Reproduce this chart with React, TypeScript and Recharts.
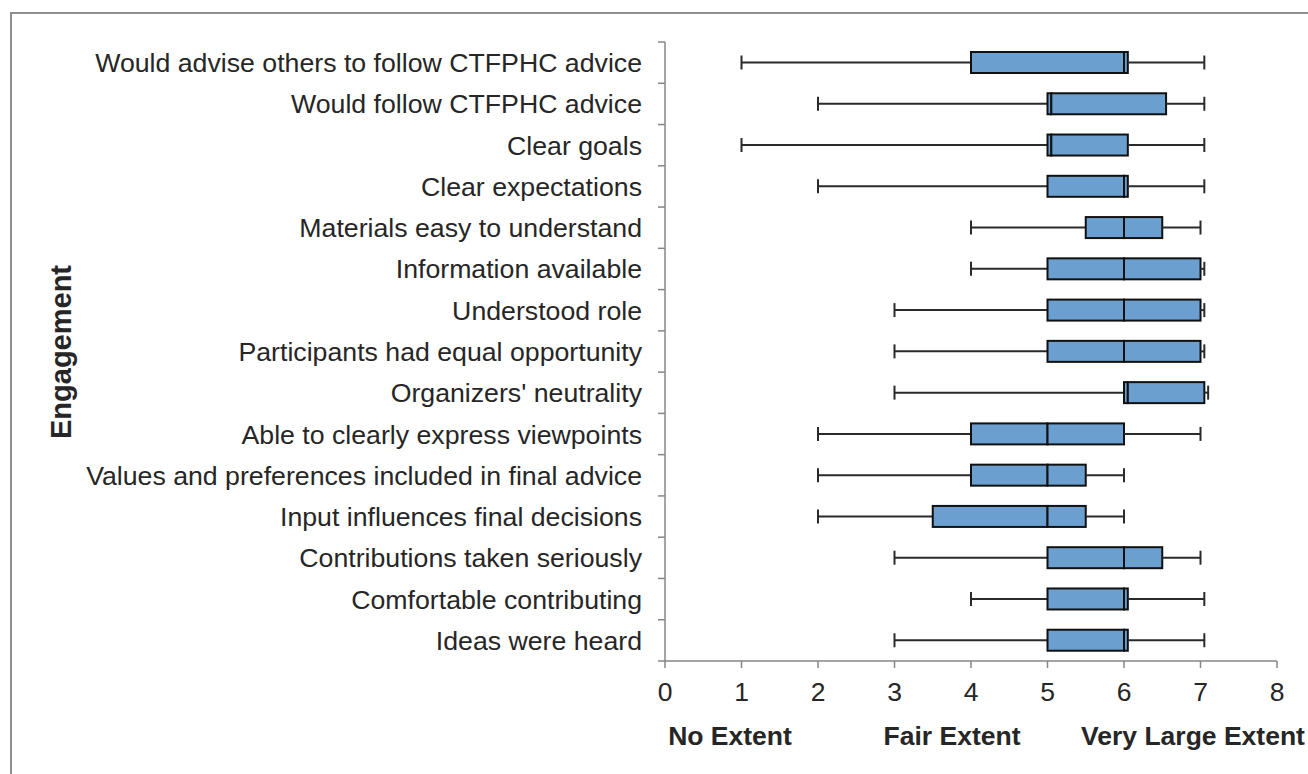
import { BarChart, Bar, XAxis, YAxis } from 'recharts';

const categories = [
  'Would advise others to follow CTFPHC advice',
  'Would follow CTFPHC advice',
  'Clear goals',
  'Clear expectations',
  'Materials easy to understand',
  'Information available',
  'Understood role',
  'Participants had equal opportunity',
  "Organizers' neutrality",
  'Able to clearly express viewpoints',
  'Values and preferences included in final advice',
  'Input influences final decisions',
  'Contributions taken seriously',
  'Comfortable contributing',
  'Ideas were heard',
];

const minValues = [1, 2, 1, 2, 4, 4, 3, 3, 3, 2, 2, 2, 3, 4, 3];
const q1Values = [4, 5, 5, 5, 5.5, 5, 5, 5, 6, 4, 4, 3.5, 5, 5, 5];
const medianValues = [6, 5.05, 5.05, 6, 6, 6, 6, 6, 6.05, 5, 5, 5, 6, 6, 6];
const q3Values = [6.05, 6.55, 6.05, 6.05, 6.5, 7, 7, 7, 7.05, 6, 5.5, 5.5, 6.5, 6.05, 6.05];
const maxValues = [7.05, 7.05, 7.05, 7.05, 7, 7.05, 7.05, 7.05, 7.1, 7, 6, 6, 7, 7.05, 7.05];

const xTicks = [0, 1, 2, 3, 4, 5, 6, 7, 8];

const extentLabels = [
  { text: 'No Extent', x: 730 },
  { text: 'Fair Extent', x: 952 },
  { text: 'Very Large Extent', x: 1193 },
];

const data = categories.map((name, i) => ({
  name,
  base: minValues[i],
  lowWhisker: q1Values[i] - minValues[i],
  boxLow: medianValues[i] - q1Values[i],
  boxHigh: q3Values[i] - medianValues[i],
  highWhisker: maxValues[i] - q3Values[i],
}));

const AXIS = '#868686';
const TEXT = '#262626';
const FONT = '"Liberation Sans", Arial, sans-serif';

const whisker = (side: 'low' | 'high') => (props: any) => {
  const { x, y, width, height } = props;
  const cy = y + height / 2;
  const capX = side === 'low' ? x : x + width;
  return (
    <g>
      <line x1={x} x2={x + width} y1={cy} y2={cy} stroke="#2a2a2a" strokeWidth={2} />
      <line x1={capX} x2={capX} y1={cy - 7} y2={cy + 7} stroke="#2a2a2a" strokeWidth={2} />
    </g>
  );
};

const BoxShape = (props: any) => {
  const { x, y, width, height } = props;
  return <rect x={x} y={y} width={width} height={height} fill="#6b9fd0" stroke="#111" strokeWidth={2} />;
};

const CategoryTick = (props: any) => {
  const { x, y, payload, index, visibleTicksCount } = props;
  const off = payload.offset ?? 0;
  const axisX = x + 23;
  return (
    <g>
      <text x={x} y={y} dy="0.355em" textAnchor="end" fontSize={26.7} fill={TEXT} fontFamily={FONT}>
        {payload.value}
      </text>
      <line x1={axisX - 7} x2={axisX} y1={y - off} y2={y - off} stroke={AXIS} strokeWidth={1.5} />
      {index === visibleTicksCount - 1 && (
        <line x1={axisX - 7} x2={axisX} y1={y + off} y2={y + off} stroke={AXIS} strokeWidth={1.5} />
      )}
    </g>
  );
};

export default function App() {
  return (
    <div style={{ position: 'absolute', left: 0, top: 0, width: 1308, height: 774, overflow: 'hidden', background: '#fff', fontFamily: FONT }}>
      <div
        style={{
          position: 'absolute',
          left: 10,
          top: 12,
          width: 1400,
          height: 900,
          borderTop: '2px solid #8e8e8e',
          borderLeft: '2px solid #8e8e8e',
        }}
      />
      <div style={{ position: 'absolute', left: 0, top: 0 }}>
        <BarChart
          width={1308}
          height={774}
          data={data}
          layout="vertical"
          margin={{ top: 42, right: 31, bottom: 73, left: 0 }}
          barSize={21}
        >
          <XAxis
            type="number"
            domain={[0, 8]}
            ticks={xTicks}
            interval={0}
            height={40}
            tickSize={7}
            tickMargin={14}
            axisLine={{ stroke: AXIS, strokeWidth: 1.5 }}
            tickLine={{ stroke: AXIS, strokeWidth: 1.5 }}
            tick={{ fontSize: 26.5, fill: TEXT, fontFamily: FONT }}
          />
          <YAxis
            type="category"
            dataKey="name"
            width={665}
            interval={0}
            tickSize={7}
            tickMargin={16}
            tickLine={false}
            axisLine={{ stroke: AXIS, strokeWidth: 1.5 }}
            tick={<CategoryTick />}
          />
          <Bar dataKey="base" stackId="a" fill="none" isAnimationActive={false} />
          <Bar dataKey="lowWhisker" stackId="a" shape={whisker('low')} isAnimationActive={false} />
          <Bar dataKey="boxLow" stackId="a" shape={BoxShape} isAnimationActive={false} />
          <Bar dataKey="boxHigh" stackId="a" shape={BoxShape} isAnimationActive={false} />
          <Bar dataKey="highWhisker" stackId="a" shape={whisker('high')} isAnimationActive={false} />
        </BarChart>
      </div>
      <svg width={1308} height={774} style={{ position: 'absolute', left: 0, top: 0, pointerEvents: 'none' }}>
        <text
          x={71}
          y={352}
          transform="rotate(-90, 71, 352)"
          textAnchor="middle"
          fontSize={29}
          fontWeight="bold"
          fill={TEXT}
          fontFamily={FONT}
        >
          Engagement
        </text>
        {extentLabels.map((l) => (
          <text key={l.text} x={l.x} y={745} textAnchor="middle" fontSize={26.5} fontWeight="bold" fill={TEXT} fontFamily={FONT}>
            {l.text}
          </text>
        ))}
      </svg>
    </div>
  );
}
